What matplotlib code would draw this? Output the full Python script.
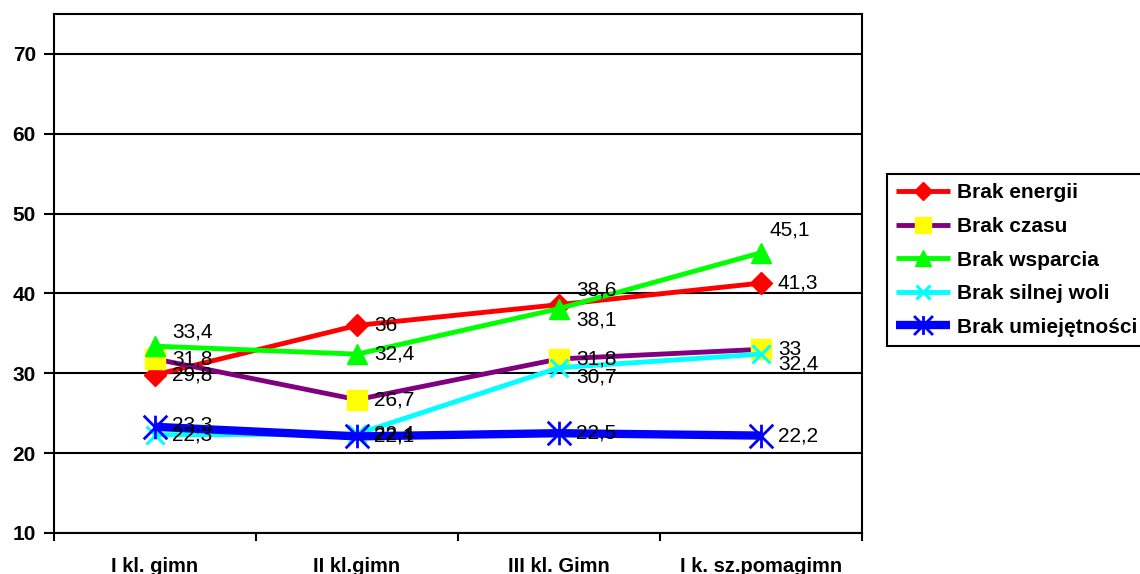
import matplotlib.pyplot as plt
from matplotlib.path import Path

plt.rcParams['font.family'] = ['Liberation Sans', 'DejaVu Sans']

categories = ["I kl. gimn", "II kl.gimn", "III kl. Gimn", "I k. sz.pomagimn"]
series_names = ["Brak energii", "Brak czasu", "Brak wsparcia", "Brak silnej woli", "Brak umiejętności"]
energii = [29.8, 36, 38.6, 41.3]
czasu = [31.8, 26.7, 31.8, 33]
wsparcia = [33.4, 32.4, 38.1, 45.1]
silnej_woli = [22.3, 22.4, 30.7, 32.4]
umiejetnosci = [23.3, 22.1, 22.5, 22.2]
y_ticks = [10, 20, 30, 40, 50, 60, 70]

# Excel-style star: x with a vertical bar
star = Path([(-1, -1), (1, 1), (-1, 1), (1, -1), (0, -1), (0, 1)],
            [Path.MOVETO, Path.LINETO, Path.MOVETO, Path.LINETO, Path.MOVETO, Path.LINETO])

styles = [
    dict(color="#ff0000", lw=3.5, marker="D", ms=11, mfc="#ff0000", mec="#ff0000"),
    dict(color="#800080", lw=3.5, marker="s", ms=14, mfc="#ffff00", mec="#ffff00"),
    dict(color="#00ff00", lw=3.5, marker="^", ms=15, mfc="#00ff00", mec="#00ff00"),
    dict(color="#00ffff", lw=3.5, marker="x", ms=13, mfc="none", mec="#00ffff", mew=2.2),
    dict(color="#0000ff", lw=6, marker=star, ms=17, mfc="none", mec="#0000ff", mew=2),
]
# label offsets in pixels (dx, dy), dy positive = down
offsets = [
    [(17, 0), (17, 0), (17, -15), (17, 0)],
    [(17, 0), (17, 0), (17, 0), (17, 0)],
    [(17, -14), (17, 0), (17, 11), (8, -23)],
    [(17, 0), (17, 0), (17, 9), (17, 10)],
    [(17, -2), (17, 0), (17, 0), (17, 0)],
]

fig = plt.figure(figsize=(11.4, 5.74), dpi=100)
ax = fig.add_axes([54 / 1140, 1 - 533 / 574, 808 / 1140, 519 / 574])

x = list(range(len(categories)))
data = [energii, czasu, wsparcia, silnej_woli, umiejetnosci]
for name, vals, st in zip(series_names, data, styles):
    ax.plot(x, vals, label=name, solid_capstyle="butt", **st)

for vals, offs in zip(data, offsets):
    for xi, v, (dx, dy) in zip(x, vals, offs):
        ax.annotate(f"{v:g}".replace(".", ","), (xi, v), xytext=(dx * 0.72, -dy * 0.72),
                    textcoords="offset points", ha="left", va="center", fontsize=15)

ax.set_xlim(-0.5, 3.5)
ax.set_ylim(10, 75)
ax.set_yticks(y_ticks)
ax.set_yticklabels([str(t) for t in y_ticks], fontweight="bold", fontsize=15)
ax.yaxis.grid(True, color="black", lw=1.5)
ax.set_axisbelow(True)
ax.set_xticks(x)
ax.set_xticklabels(categories, fontweight="bold", fontsize=14.5)
ax.set_xticks([-0.5, 0.5, 1.5, 2.5, 3.5], minor=True)
ax.tick_params(axis="x", which="major", length=0, pad=17)
ax.tick_params(axis="x", which="minor", length=6, width=1.5, direction="out")
ax.tick_params(axis="y", length=7, width=1.5, direction="out", pad=6)
for sp in ax.spines.values():
    sp.set_linewidth(1.5)
    sp.set_color("black")

leg = fig.legend(loc="upper left", bbox_to_anchor=(887 / 1140, 1 - 174 / 574),
                 prop=dict(weight="bold", size=15), handlelength=2.55, handletextpad=0.35,
                 labelspacing=0.7, borderpad=0.45, fancybox=False, framealpha=1,
                 edgecolor="black", borderaxespad=0, markerscale=0.8)
leg.get_frame().set_linewidth(1.5)

fig.savefig("out.png", dpi=100)
